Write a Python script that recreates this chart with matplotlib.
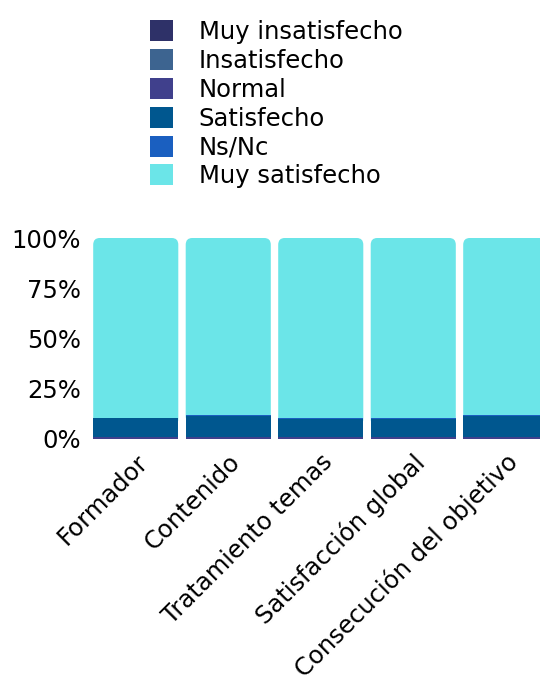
import numpy as np
import matplotlib.pyplot as plt
import matplotlib.transforms as mtransforms
from matplotlib.patches import FancyBboxPatch, Patch
from matplotlib.ticker import PercentFormatter

# === datos ===
categorias = ["Formador", "Contenido", "Tratamiento temas",
              "Satisfacción global", "Consecución del objetivo"]
niveles = ["Muy insatisfecho", "Insatisfecho", "Normal",
           "Satisfecho", "Ns/Nc", "Muy satisfecho"]
muy_insatisfecho = [0, 0, 0, 0, 0]
insatisfecho = [0, 0, 0, 0, 0]
normal = [1.0, 1.0, 1.0, 1.0, 1.0]
satisfecho = [9.5, 10.5, 9.0, 9.0, 10.5]
ns_nc = [0.0, 0.5, 0.5, 0.5, 0.5]
muy_satisfecho = [89.5, 88.0, 89.5, 89.5, 88.0]

colores = ["#2e3168", "#3d6490", "#40408c", "#00578f", "#1a5fc0", "#6be5e8"]
series = [muy_insatisfecho, insatisfecho, normal, satisfecho, ns_nc, muy_satisfecho]

plt.rcParams['font.family'] = ['DejaVu Sans']
fs = 17.5

fig = plt.figure(figsize=(5.4, 6.98), dpi=100)
ax = fig.add_axes([89.5 / 540, 259 / 698, 462.5 / 540, 201 / 698])

x = np.arange(len(categorias))
base = np.zeros(len(categorias))
for i, (nombre, vals, col) in enumerate(zip(niveles, series, colores)):
    vals = np.array(vals, dtype=float)
    barras = ax.bar(x, vals, bottom=base, width=0.92, color=col, label=nombre)
    if i == len(series) - 1:
        # esquinas superiores redondeadas
        for p in barras.patches:
            x0, y0, w, h = p.get_x(), p.get_y(), p.get_width(), p.get_height()
            r = FancyBboxPatch((x0, y0 - 4), w, h + 4,
                               boxstyle="round,pad=0,rounding_size=0.07",
                               mutation_aspect=48, facecolor=col,
                               edgecolor='none', zorder=0.5)
            ax.add_patch(r)
            p.set_visible(False)
    base += vals

ax.set_xlim(-0.5, 4.5)
ax.set_ylim(0, 100)
ax.set_yticks([0, 25, 50, 75, 100])
ax.yaxis.set_major_formatter(PercentFormatter(decimals=0))
ax.set_xticks(x)
ax.set_xticklabels(categorias, rotation=45, ha='right', va='center',
                   rotation_mode='anchor')
ax.tick_params(axis='x', length=0, labelsize=fs, pad=14)
ax.tick_params(axis='y', length=0, labelsize=fs, pad=6)
desplaza = mtransforms.ScaledTranslation(8 / 100, 0, fig.dpi_scale_trans)
for lab in ax.get_xticklabels():
    lab.set_transform(lab.get_transform() + desplaza)
for s in ax.spines.values():
    s.set_visible(False)

manejadores = [Patch(facecolor=c, label=n) for n, c in zip(niveles, colores)]
fig.legend(handles=manejadores, loc='upper left',
           bbox_to_anchor=(150 / 540, 1 - 20 / 698),
           frameon=False, fontsize=fs, handlelength=0.95, handleheight=0.95,
           handletextpad=1.05, labelspacing=0.2, borderaxespad=0, borderpad=0)

fig.savefig("out.png", dpi=100)
